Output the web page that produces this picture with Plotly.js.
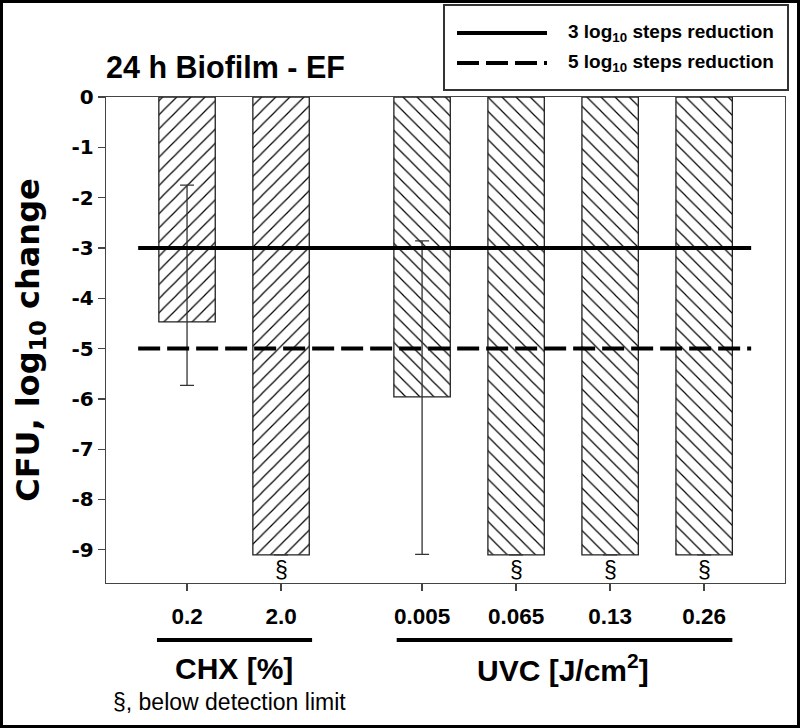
<!DOCTYPE html>
<html>
<head>
<meta charset="utf-8">
<script src="https://cdn.plot.ly/plotly-3.0.1.min.js"></script>
<style>
  body { margin: 0; background: #fff; }
  #chart { width: 800px; height: 728px; }
</style>
</head>
<body>
<div id="chart"></div>
<script>
// bar data
const doses = ['0.2', '2.0', '0.005', '0.065', '0.13', '0.26'];
const groupOf = [0, 0, 1, 1, 1, 1];
const groups = ['CHX [%]', 'UVC [J/cm<sup>2</sup>]'];
const logChange = [-4.47, -9.1, -5.96, -9.1, -9.1, -9.1];
const errUp = [2.72, null, 3.10, null, null, null];
const errDown = [1.26, null, 3.13, null, null, null];
const belowLimit = [false, true, false, true, true, true];

// reference lines
const refNames = ['3 log<sub>10</sub> steps reduction', '5 log<sub>10</sub> steps reduction'];
const refLevels = [-3, -5];
const refSpan = [0.48, 7.0];

const FONT = 'Liberation Sans, Arial, sans-serif';
const WIDE = 'DejaVu Sans, Liberation Sans, sans-serif';

// x slot of every bar, with half a slot between groups
const xPos = doses.map((d, i) => i + 1 + 0.5 * groupOf[i]);

// plot box in pixels
const L = 106, R = 785, T = 97, B = 583;
function px(x) { return (x - L) / (R - L); }
function py(y) { return (B - y) / (B - T); }

const bars = {
    type: 'bar',
    x: xPos,
    y: logChange,
    width: 0.6,
    marker: {
        color: '#fff',
        line: {color: '#222', width: 1.3},
        pattern: {
            shape: groupOf.map(g => g === 0 ? '/' : '\\'),
            fgcolor: '#000',
            bgcolor: '#fff',
            size: 10,
            solidity: 0.12
        }
    },
    error_y: {
        type: 'data',
        symmetric: false,
        array: errUp,
        arrayminus: errDown,
        color: '#333',
        thickness: 1.3,
        width: 7
    },
    showlegend: false,
    hoverinfo: 'skip'
};

const dashes = ['solid', '22px,7px'];
const lines = refLevels.map((lvl, i) => ({
    type: 'scatter',
    mode: 'lines',
    x: refSpan,
    y: [lvl, lvl],
    name: refNames[i],
    line: {color: '#000', width: 4, dash: dashes[i]},
    showlegend: false
}));

let annotations = [];
let shapes = [];

// § under bars below detection limit
belowLimit.forEach((b, i) => {
    if (!b) return;
    annotations.push({
        x: xPos[i], y: logChange[i], xref: 'x', yref: 'y',
        text: '§', showarrow: false, yanchor: 'top', yshift: 0,
        font: {family: FONT, size: 23, color: '#000'}
    });
});

// group underlines and labels
const linePad = [[0.32, 0.33], [0.27, 0.3]];
groups.forEach((g, gi) => {
    const xs = xPos.filter((x, i) => groupOf[i] === gi);
    const x0 = Math.min(...xs) - linePad[gi][0], x1 = Math.max(...xs) + linePad[gi][1];
    shapes.push({
        type: 'line', xref: 'x', yref: 'paper',
        x0: x0, x1: x1, y0: py(640), y1: py(640),
        line: {color: '#000', width: 4}
    });
    annotations.push({
        x: (Math.min(...xs) + Math.max(...xs)) / 2, xref: 'x',
        y: py(668), yref: 'paper', yanchor: 'middle',
        text: '<b>' + g + '</b>', showarrow: false,
        font: {family: FONT, size: 30, color: '#000'}
    });
});

annotations.push({
    x: px(111), xref: 'paper', xanchor: 'left',
    y: py(702), yref: 'paper', yanchor: 'middle',
    text: '§, below detection limit', showarrow: false,
    font: {family: FONT, size: 23, color: '#000'}
});

// legend box drawn by hand
shapes.push({
    type: 'rect', xref: 'paper', yref: 'paper',
    x0: px(444), x1: px(788), y0: py(90), y1: py(5),
    line: {color: '#333', width: 2}, fillcolor: 'rgba(0,0,0,0)'
});
[33, 63].forEach((yy, i) => {
    shapes.push({
        type: 'line', xref: 'paper', yref: 'paper',
        x0: px(457), x1: px(547), y0: py(yy), y1: py(yy),
        line: {color: '#000', width: 4, dash: dashes[i]}
    });
    annotations.push({
        x: px(566), xref: 'paper', xanchor: 'left',
        y: py(yy), yref: 'paper', yanchor: 'middle',
        text: '<b>' + refNames[i] + '</b>', showarrow: false,
        font: {family: FONT, size: 19, color: '#000'}
    });
});

// outer frame of the picture
shapes.push({
    type: 'rect', xref: 'paper', yref: 'paper',
    x0: px(1.5), x1: px(798.5), y0: py(726.5), y1: py(1.5),
    line: {color: '#000', width: 3}, fillcolor: 'rgba(0,0,0,0)'
});

const layout = {
    width: 800,
    height: 728,
    margin: {l: L, r: 800 - R, t: T, b: 728 - B},
    paper_bgcolor: '#fff',
    plot_bgcolor: '#fff',
    showlegend: false,
    title: {
        text: '<b>24 h Biofilm - EF</b>',
        font: {family: FONT, size: 30.5, color: '#000'},
        xref: 'paper', x: 0, xanchor: 'left',
        yref: 'container', y: 1 - 67 / 728, yanchor: 'middle'
    },
    xaxis: {
        range: [0.138, 7.36],
        tickvals: xPos,
        ticktext: doses.map(d => '<b>' + d + '</b>'),
        tickfont: {family: FONT, size: 22.5, color: '#000'},
        ticks: 'outside', ticklen: 7, tickcolor: '#444', tickwidth: 1.3,
        ticklabelstandoff: 6,
        showline: true, mirror: true, linecolor: '#444', linewidth: 1.3,
        showgrid: false, zeroline: false, fixedrange: true
    },
    yaxis: {
        range: [-9.66, 0],
        tickvals: [0, -1, -2, -3, -4, -5, -6, -7, -8, -9],
        ticktext: ['0', '-1', '-2', '-3', '-4', '-5', '-6', '-7', '-8', '-9'].map(t => '<b>' + t + '</b>'),
        tickfont: {family: WIDE, size: 20, color: '#000'},
        ticks: 'outside', ticklen: 7, tickcolor: '#444', tickwidth: 1.3,
        showline: true, mirror: true, linecolor: '#444', linewidth: 1.3,
        showgrid: false, zeroline: false, fixedrange: true,
        title: {
            text: '<b>CFU, log<sub>10</sub> change</b>',
            font: {family: WIDE, size: 32, color: '#000'},
            standoff: 22
        }
    },
    shapes: shapes,
    annotations: annotations
};

Plotly.newPlot('chart', [bars, ...lines], layout, {displayModeBar: false, staticPlot: true});
</script>
</body>
</html>
